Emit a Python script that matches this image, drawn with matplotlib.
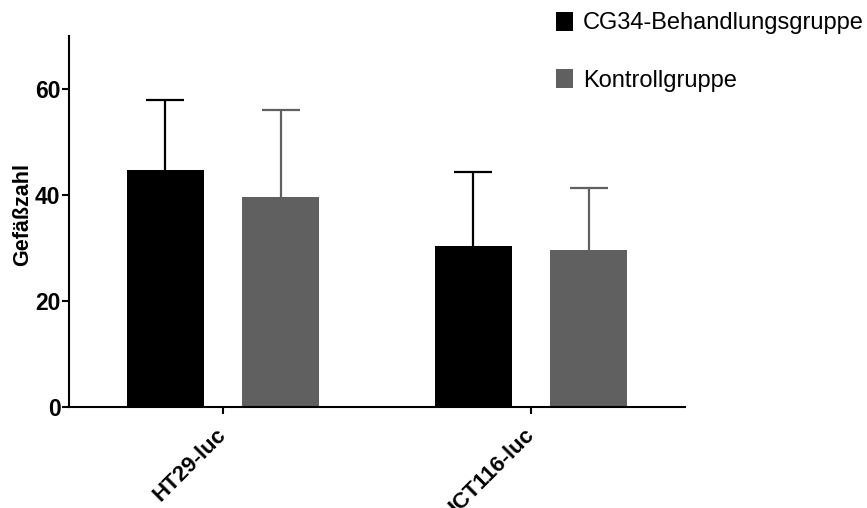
import matplotlib
matplotlib.use("Agg")
import matplotlib.pyplot as plt
import numpy as np

plt.rcParams['font.family'] = ['Liberation Sans', 'DejaVu Sans']

categories = ["HT29-luc", "HCT116-luc"]
series_names = ["CG34-Behandlungsgruppe", "Kontrollgruppe"]
cg34_mean = [44.8, 30.3]
cg34_err = [13.1, 14.1]
ctrl_mean = [39.6, 29.7]
ctrl_err = [16.4, 11.6]
y_ticks = [0, 20, 40, 60]
colors = ["#000000", "#606060"]

fig = plt.figure(figsize=(8.67, 5.08), dpi=100)
ax = fig.add_axes([69/867, 1-407/508, (685-69)/867, (407-36)/508])

x = np.arange(len(categories))
w = 0.25
off = 0.1875
for i, (m, e, c, name) in enumerate(zip([cg34_mean, ctrl_mean], [cg34_err, ctrl_err], colors, series_names)):
    pos = x + (-off if i == 0 else off)
    ax.bar(pos, m, width=w, color=c, label=name, zorder=2)
    _, caps, _ = ax.errorbar(pos, m, yerr=[np.zeros(len(m)), e], fmt='none', ecolor=c,
                             elinewidth=1.6, capsize=14, capthick=1.6, zorder=1)
    caps[0].set_visible(False)

ax.set_xlim(-0.5, 1.5)
ax.set_ylim(0, 70)
ax.set_yticks(y_ticks)
ax.set_xticks(x)
ax.set_xticklabels(categories, rotation=45, ha='right', va='center', rotation_mode='anchor',
                   fontsize=16, fontweight='bold')
for lab in ax.get_yticklabels():
    lab.set_fontsize(16.5)
    lab.set_fontweight('bold')
ax.set_ylabel("Gefäßzahl", fontsize=15.5, fontweight='bold')
ax.yaxis.set_label_coords(-0.059, 0.52)

for s in ['top', 'right']:
    ax.spines[s].set_visible(False)
for s in ['left', 'bottom']:
    ax.spines[s].set_linewidth(1.5)
ax.tick_params(axis='both', width=1.5, length=5, direction='out')
ax.tick_params(axis='y', pad=1.2)
ax.tick_params(axis='x', pad=13)

leg = fig.legend(loc='upper left', bbox_to_anchor=(556/867, 1-11.5/508), frameon=False,
                 fontsize=17, handlelength=0.72, handleheight=0.9, handletextpad=0.42,
                 labelspacing=1.45, borderpad=0, borderaxespad=0)

fig.savefig("out.png", dpi=100)
